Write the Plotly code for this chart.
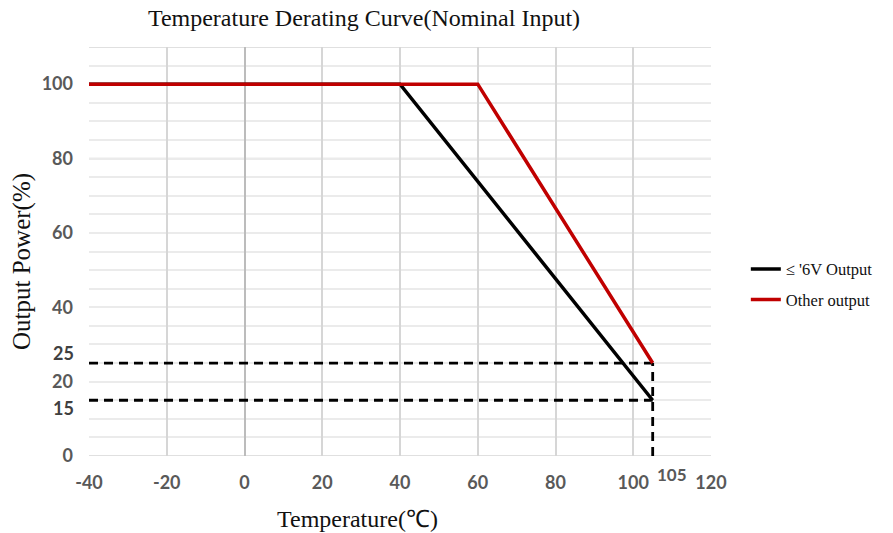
import plotly.graph_objects as go

# Data
temp_low = [-40, 40, 105]
power_low = [100, 100, 15]
temp_other = [-40, 60, 105]
power_other = [100, 100, 25]
name_low = "≤ '6V Output"
name_other = "Other output"
x_ticks = [-40, -20, 0, 20, 40, 60, 80, 100, 120]
x_labels = ["-40", "-20", "0", "20", "40", "60", "80", "100", "120"]
y_ticks = [0, 20, 40, 60, 80, 100]
y_extra = [15, 25]
end_temp = 105

fig = go.Figure()

dash_style = dict(color="black", width=2.8, dash="9px,6px")
fig.add_trace(go.Scatter(x=[-40, end_temp], y=[power_other[-1]] * 2, mode="lines",
                         line=dash_style, showlegend=False, hoverinfo="skip"))
fig.add_trace(go.Scatter(x=[-40, end_temp], y=[power_low[-1]] * 2, mode="lines",
                         line=dash_style, showlegend=False, hoverinfo="skip"))
fig.add_trace(go.Scatter(x=[end_temp, end_temp], y=[0, power_other[-1]], mode="lines",
                         line=dash_style, showlegend=False, hoverinfo="skip"))

fig.add_trace(go.Scatter(x=temp_low, y=power_low, mode="lines", name=name_low, legendgroup="a",
                         line=dict(color="#000000", width=3.5)))
fig.add_trace(go.Scatter(x=temp_other, y=power_other, mode="lines", name=name_other, legendgroup="b",
                         line=dict(color="#C00000", width=3.5)))

tick_font = dict(family="Lato", size=18, color="#595959", weight="bold")
serif = "Liberation Serif"

fig.update_layout(
    width=893, height=533,
    margin=dict(l=89, r=182, t=47, b=77),
    plot_bgcolor="white", paper_bgcolor="white",
    title=dict(text="Temperature Derating Curve(Nominal Input)", x=364 / 893, xanchor="center",
               y=1 - 18 / 533, yanchor="middle",
               font=dict(family=serif, size=24, color="#111111")),
    xaxis=dict(range=[-40, 120], tickvals=x_ticks, ticktext=x_labels, showgrid=True,
               gridcolor="#d6d6d6", gridwidth=1.5,
               zeroline=True, zerolinecolor="#bcbcbc", zerolinewidth=2,
               showline=False, tickfont=tick_font, ticklabelstandoff=14),
    yaxis=dict(range=[0, 110], tickvals=y_ticks, showgrid=False,
               minor=dict(dtick=5, tick0=0, showgrid=True, gridcolor="#ebebeb", gridwidth=1.5),
               zeroline=False, showline=False, tickfont=tick_font, ticklabelstandoff=15),
    legend=dict(x=1.056, y=0.42, xanchor="left", yanchor="middle", bgcolor="rgba(0,0,0,0)",
                font=dict(family=serif, size=16.5, color="#111111"),
                tracegroupgap=6, traceorder="grouped"),
)

for yv in [0, 20, 40, 60, 80, 100, 110]:
    fig.add_hline(y=yv, line=dict(color="#d6d6d6", width=1.5), layer="below")

# axis titles
fig.add_annotation(text="Temperature(℃)", xref="paper", yref="paper", x=(357 - 89) / 622,
                   y=-(519 - 456) / 409, showarrow=False, xanchor="center", yanchor="middle",
                   font=dict(family=serif, size=24, color="#111111"))
fig.add_annotation(text="Output Power(%)", xref="paper", yref="paper", x=-(89 - 22) / 622,
                   y=(456 - 262) / 409, showarrow=False, xanchor="center", yanchor="middle",
                   textangle=-90, font=dict(family=serif, size=25, color="#111111"))

# extra y labels for 15 and 25 (offset as in the reference)
for val, shift in zip(y_extra, [-8, 10]):
    fig.add_annotation(x=0, xref="paper", y=val, yref="y", text=f"<b>{val}</b>", showarrow=False,
                       xanchor="right", yanchor="middle", xshift=-13, yshift=shift,
                       font=dict(family="Lato", size=18, color="#404040"))

fig.add_annotation(x=end_temp, y=0, xref="x", yref="y", text="<b>105</b>", showarrow=False,
                   xanchor="center", yanchor="middle", yshift=-18, xshift=19,
                   font=dict(family="Lato", size=17, color="#595959"))

fig.write_html("out.html")
